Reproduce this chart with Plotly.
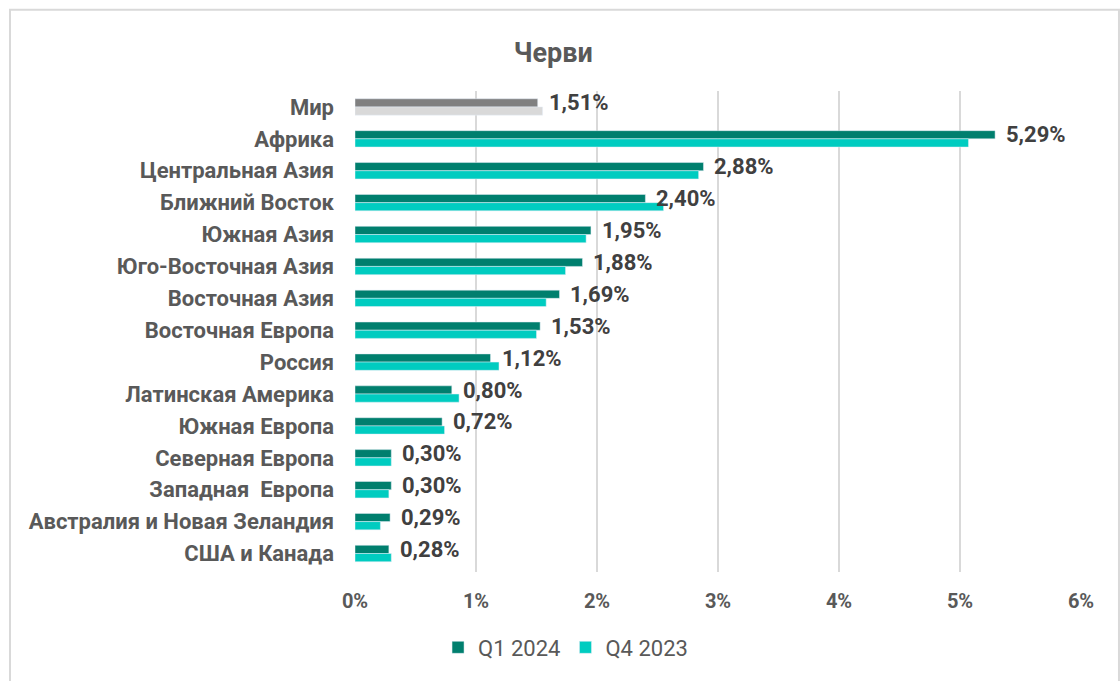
import plotly.graph_objects as go

categories = ["Мир", "Африка", "Центральная Азия", "Ближний Восток", "Южная Азия",
              "Юго-Восточная Азия", "Восточная Азия", "Восточная Европа", "Россия",
              "Латинская Америка", "Южная Европа", "Северная Европа", "Западная  Европа",
              "Австралия и Новая Зеландия", "США и Канада"]
q1_2024 = [1.51, 5.29, 2.88, 2.40, 1.95, 1.88, 1.69, 1.53, 1.12, 0.80, 0.72, 0.30, 0.30, 0.29, 0.28]
q4_2023 = [1.55, 5.07, 2.84, 2.55, 1.91, 1.74, 1.58, 1.50, 1.19, 0.86, 0.74, 0.30, 0.28, 0.21, 0.30]
tick_vals = [0, 1, 2, 3, 4, 5, 6]
tick_text = ["0%", "1%", "2%", "3%", "4%", "5%", "6%"]

C_Q1 = "#007F6E"
C_Q4 = "#00CCC0"
C_W1 = "#808080"
C_W4 = "#D9D9D9"
FONT = "Roboto"

fig = go.Figure()
# World row (grey), not in legend
fig.add_trace(go.Bar(y=categories[:1], x=q1_2024[:1], orientation="h", marker_color=C_W1,
                     offsetgroup="a", showlegend=False, hoverinfo="skip"))
fig.add_trace(go.Bar(y=categories[:1], x=q4_2023[:1], orientation="h", marker_color=C_W4,
                     offsetgroup="b", showlegend=False, hoverinfo="skip"))
# Regions
fig.add_trace(go.Bar(y=categories[1:], x=q1_2024[1:], orientation="h", marker_color=C_Q1,
                     offsetgroup="a", name="Q1 2024"))
fig.add_trace(go.Bar(y=categories[1:], x=q4_2023[1:], orientation="h", marker_color=C_Q4,
                     offsetgroup="b", name="Q4 2023"))

for c, v in zip(categories, q1_2024):
    fig.add_annotation(x=v, y=c, xref="x", yref="y", text=f"{v:.2f}".replace(".", ",") + "%",
                       showarrow=False, xanchor="left", yanchor="middle", xshift=9, yshift=4,
                       font=dict(family=FONT, size=22, color="#404040", weight="bold"))

fig.add_shape(type="rect", xref="paper", yref="paper", x0=-0.4752, x1=1.0523, y0=-0.3, y1=1.169,
              line=dict(color="#D9D9D9", width=2), fillcolor="rgba(0,0,0,0)")

fig.update_layout(
    width=1120, height=681,
    margin=dict(l=355, r=39, t=91, b=105),
    paper_bgcolor="white", plot_bgcolor="white",
    barmode="group", bargap=0.486, bargroupgap=0,
    title=dict(text="Черви", xref="container", yref="container", x=0.494, y=1 - 53 / 681,
               xanchor="center", yanchor="middle",
               font=dict(family=FONT, size=27, color="#595959", weight="bold")),
    legend=dict(orientation="h", x=0.29, y=-0.157, xanchor="center", yanchor="middle",
                font=dict(family=FONT, size=22, color="#595959"), traceorder="normal"),
    xaxis=dict(range=[0, 6], tickvals=tick_vals, ticktext=tick_text, showgrid=True,
               gridcolor="#D9D9D9", gridwidth=2, zeroline=False, showline=False, ticks="",
               ticklabelstandoff=15,
               tickfont=dict(family=FONT, size=20, color="#595959", weight="bold")),
    yaxis=dict(categoryorder="array", categoryarray=categories, autorange="reversed",
               showgrid=False, zeroline=False, showline=False, ticks="", ticklabelstandoff=20,
               tickfont=dict(family=FONT, size=22, color="#595959", weight="bold")),
)

fig.write_html("out.html")
